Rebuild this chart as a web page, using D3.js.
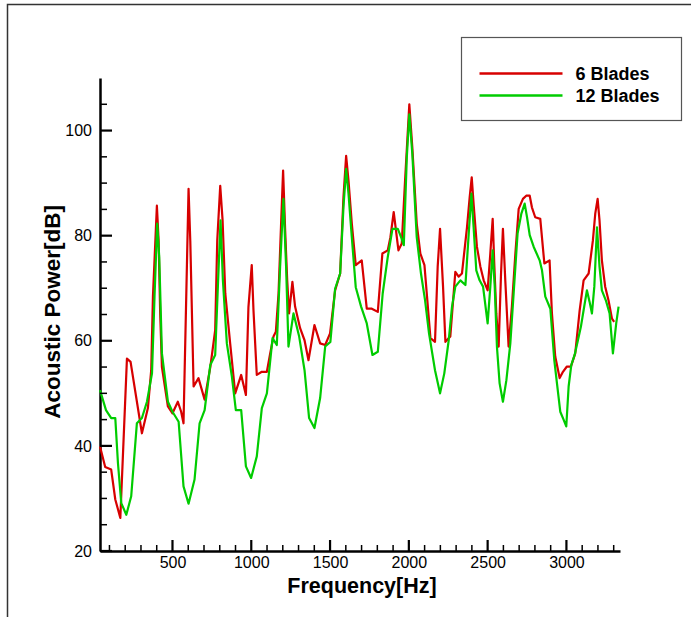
<!DOCTYPE html>
<html>
<head>
<meta charset="utf-8">
<script src="https://cdn.jsdelivr.net/npm/d3@7"></script>
<style>
    body { margin: 0; background: #ffffff; }
    svg { display: block; font-family: "Liberation Sans", Arial, sans-serif; }
</style>
</head>
<body>
<div class="chart-container"></div>
<script>
// 6 blades spectrum (Hz, dB)
const freq6 = [40, 73, 111, 137, 169, 211, 234, 306, 344, 365, 376, 401, 412, 422, 433, 471, 500, 534, 555, 570, 585, 602, 613, 634, 665, 704, 740, 771, 784, 803, 818, 835, 866, 898, 936, 966, 982, 1003, 1014, 1035, 1067, 1099, 1120, 1141,
    1156, 1173, 1190, 1202, 1215, 1228, 1240, 1261, 1278, 1310, 1338, 1363, 1401, 1437, 1469, 1500, 1532, 1564, 1585, 1602, 1617, 1638, 1663, 1701, 1733, 1765, 1803, 1832, 1866, 1883, 1904, 1934, 1955, 1976, 2003, 2022, 2050, 2073, 2099, 2124, 2137, 2166, 2183, 2198,
    2217, 2232, 2263, 2295, 2316, 2337, 2369, 2386, 2399, 2411, 2432, 2454, 2475, 2500, 2517, 2532, 2542, 2555, 2570, 2585, 2597, 2612, 2633, 2654, 2676, 2697, 2724, 2745, 2767, 2781, 2802, 2834, 2860, 2893, 2908, 2929, 2957, 2978, 3003, 3029, 3056, 3084, 3109, 3141, 3168, 3183, 3198, 3210, 3225, 3246, 3267, 3289, 3303];
const power6 = [39.9, 36, 35.5, 29.8, 26.3, 56.6, 56, 42.4, 47.2, 54.4, 68.4, 85.7, 79, 65.2, 55, 47.5, 46.2, 48.4, 46.5, 44.3, 65.2, 88.9, 79, 51.3, 52.9, 48.8, 55, 62, 79, 89.5, 82.9, 69, 59.5, 50, 53.5, 49.7, 66.4, 74.4, 65.8, 53.5, 54.1, 54.1, 57.6, 60.8,
    61.7, 69, 82.9, 92.4, 81, 71.5, 65.2, 71.2, 66.5, 62.4, 60.1, 56.3, 63, 59.5, 59.2, 61.4, 69.6, 72.8, 87.3, 95.2, 90.5, 82.3, 74.4, 75.3, 66.1, 66.1, 65.5, 76.6, 77.2, 79.7, 84.5, 77.2, 78.5, 90.5, 105, 96.8, 82.3, 76.6, 74.4, 65.2, 60.5, 59.8, 74.1, 81.3,
    70.3, 59.8, 60.8, 73.1, 72.2, 72.8, 81.6, 87.3, 91.1, 86, 77.9, 74.1, 71.5, 69.6, 76.6, 83.2, 74.7, 65.2, 58.9, 72.8, 81.3, 71.5, 58.9, 66.5, 76.6, 85.1, 87, 87.6, 87.6, 85.4, 83.5, 83.2, 74.7, 75.3, 65.2, 57, 52.9, 54.1, 55.1, 55.1, 57.6, 65.8, 71.5, 72.8, 79.1, 84.2, 87, 82.9, 75.3, 70.3, 67.7, 64.2, 63.6];

// 12 blades spectrum (Hz, dB)
const freq12 = [40, 78, 111, 137, 154, 175, 207, 238, 274, 306, 338, 370, 386, 403, 416, 433, 471, 500, 539, 570, 602, 640, 672, 704, 740, 771, 788, 805, 820, 845, 877, 902, 936, 966, 999, 1035, 1067, 1099,
    1135, 1162, 1183, 1204, 1221, 1236, 1268, 1304, 1338, 1367, 1401, 1437, 1469, 1502, 1532, 1564, 1585, 1602, 1617, 1638, 1663, 1697, 1733, 1769, 1803, 1834, 1866, 1896, 1930, 1951, 1968, 1987, 2003, 2022, 2050, 2077, 2103, 2128, 2166, 2198,
    2225, 2253, 2274, 2295, 2327, 2359, 2380, 2397, 2411, 2428, 2449, 2471, 2500, 2517, 2532, 2545, 2559, 2576, 2597, 2619, 2644, 2665, 2690, 2714, 2735, 2750, 2767, 2792, 2830, 2845, 2866, 2898, 2923, 2940, 2961, 2982, 2999, 3014, 3031, 3052, 3073, 3092, 3109, 3130, 3147, 3162, 3177, 3194, 3210, 3225, 3250, 3274, 3295, 3316, 3331];
const power12 = [50.6, 46.8, 45.3, 45.3, 36.7, 29.1, 26.9, 30.4, 44.3, 45.3, 48.4, 53.8, 68.4, 82.3, 75.9, 57.6, 48.4, 46.5, 44.6, 32.3, 29, 33.6, 44.3, 46.8, 55.4, 57.3, 70.3, 82.9, 71.5, 59.5, 53.2, 46.8, 46.8, 36.1, 33.9, 38, 47.2, 50,
    60.5, 59.2, 74.1, 87, 74.1, 58.9, 65.2, 60.8, 54.4, 45.3, 43.4, 49.1, 58.9, 59.8, 69.9, 72.8, 85.4, 92.7, 88, 79.7, 70.2, 66.5, 63.3, 57.3, 57.9, 69, 75.9, 81.3, 81.3, 79.7, 78.2, 94.9, 103.1, 95.6, 79.7, 72.8, 67.7, 61.4, 54.4, 50,
    53.8, 60.1, 66.5, 70.3, 71.5, 70.6, 80.4, 88, 81.6, 73.4, 71.5, 70.3, 63.3, 70.3, 77.2, 70.3, 58.9, 51.9, 48.4, 52.5, 59.5, 69, 80.4, 84.2, 86.1, 83.5, 80.1, 77.9, 75.3, 73.4, 68.4, 66.1, 56.3, 51.9, 46.5, 45, 43.7, 51.3, 55.4, 57.3, 60.1, 62.7, 65.8, 69.6, 67.4, 65.2, 70.3, 81.6, 74.1, 69.6, 67.7, 65.2, 57.6, 63.3, 66.5];

const xTickValues = [500, 1000, 1500, 2000, 2500, 3000];
const yTickValues = [20, 40, 60, 80, 100];
const seriesNames = ["6 Blades", "12 Blades"];

const width = 691;
const height = 617;
const margin = {top: 78, right: 71, bottom: 66, left: 100};
const colorScheme = ["#d70000", "#00cc00"];

const x = d3.scaleLinear()
            .domain([40, 3340])
            .range([margin.left, width - margin.right]);

const y = d3.scaleLinear()
            .domain([20, 110])
            .range([height - margin.bottom, margin.top]);

const svg = d3.select(".chart-container")
              .append("svg")
              .attr("width", width)
              .attr("height", height);

svg.append("rect")
    .attr("width", width)
    .attr("height", height)
    .attr("fill", "#ffffff");

// outer frame (only top and left edges visible)
svg.append("path")
    .attr("d", `M7.5,${height} V4.5 H${width}`)
    .attr("fill", "none")
    .attr("stroke", "#333333")
    .attr("stroke-width", 1.5);

const x0 = x(40);
const y0 = y(20);

// axes (labels + spine)
const xAxis = svg.append("g")
                 .attr("transform", `translate(0,${y0})`)
                 .call(d3.axisBottom(x).tickValues(xTickValues).tickFormat(d3.format("d")).tickSize(0).tickPadding(6));

const yAxis = svg.append("g")
                 .attr("transform", `translate(${x0},0)`)
                 .call(d3.axisLeft(y).tickValues(yTickValues).tickFormat(d3.format("d")).tickSize(0).tickPadding(8));

[xAxis, yAxis].forEach(g => {
    g.select(".domain")
        .attr("stroke", "#000000")
        .attr("stroke-width", 2.5);
    g.selectAll(".tick text")
        .attr("font-family", "'Liberation Sans', Arial, sans-serif")
        .attr("font-size", 16)
        .attr("fill", "#000000");
});

// axis titles
svg.append("text")
    .attr("x", (x(40) + x(3340)) / 2 + 2)
    .attr("y", 593)
    .attr("text-anchor", "middle")
    .attr("font-size", 21.5)
    .attr("font-weight", "bold")
    .text("Frequency[Hz]");

svg.append("text")
    .attr("transform", `translate(60,${y(65.5)}) rotate(-90)`)
    .attr("text-anchor", "middle")
    .attr("font-size", 22.5)
    .attr("font-weight", "bold")
    .text("Acoustic Power[dB]");

// spectrum lines
const line = d3.line()
               .x(d => x(d[0]))
               .y(d => y(d[1]));

const series = [
    d3.zip(freq6, power6),
    d3.zip(freq12, power12)
];

svg.append("g")
    .selectAll("path")
    .data(series)
    .enter()
    .append("path")
    .attr("d", line)
    .attr("fill", "none")
    .attr("stroke", (d, i) => colorScheme[i])
    .attr("stroke-width", 2.2)
    .attr("stroke-linejoin", "round");

// inward tick marks, one rect per tick, drawn on top
const xMinor = d3.range(100, 3340, 100).filter(v => v % 500 !== 0);
const yMinor = d3.range(25, 110, 5).filter(v => v % 20 !== 0);

const tickMarks = [
    ...xMinor.map(v => ({x: x(v) - 0.75, y: y0 - 6, w: 1.5, h: 6})),
    ...xTickValues.map(v => ({x: x(v) - 1.1, y: y0 - 11, w: 2.2, h: 11})),
    ...yMinor.map(v => ({x: x0, y: y(v) - 0.75, w: 7, h: 1.5})),
    ...yTickValues.map(v => ({x: x0, y: y(v) - 1.1, w: 12, h: 2.2}))
];

svg.append("g")
    .attr("class", "tick-marks")
    .selectAll("rect")
    .data(tickMarks)
    .enter()
    .append("rect")
    .attr("x", d => d.x)
    .attr("y", d => d.y)
    .attr("width", d => d.w)
    .attr("height", d => d.h)
    .attr("fill", "#000000");

// legend
const legend = svg.append("g")
                  .attr("transform", "translate(461.5,37.5)");

legend.append("rect")
    .attr("width", 220)
    .attr("height", 83)
    .attr("fill", "#ffffff")
    .attr("stroke", "#555555")
    .attr("stroke-width", 1.2);

const items = legend.selectAll(".legend-item")
                    .data(seriesNames)
                    .enter()
                    .append("g")
                    .attr("class", "legend-item")
                    .attr("transform", (d, i) => `translate(0,${36 + i * 22})`);

items.append("line")
    .attr("x1", 18)
    .attr("x2", 101)
    .attr("stroke", (d, i) => colorScheme[i])
    .attr("stroke-width", 2.5);

items.append("text")
    .attr("x", 114)
    .attr("y", 6.5)
    .attr("font-size", 18)
    .attr("font-weight", "bold")
    .text(d => d);
</script>
</body>
</html>
